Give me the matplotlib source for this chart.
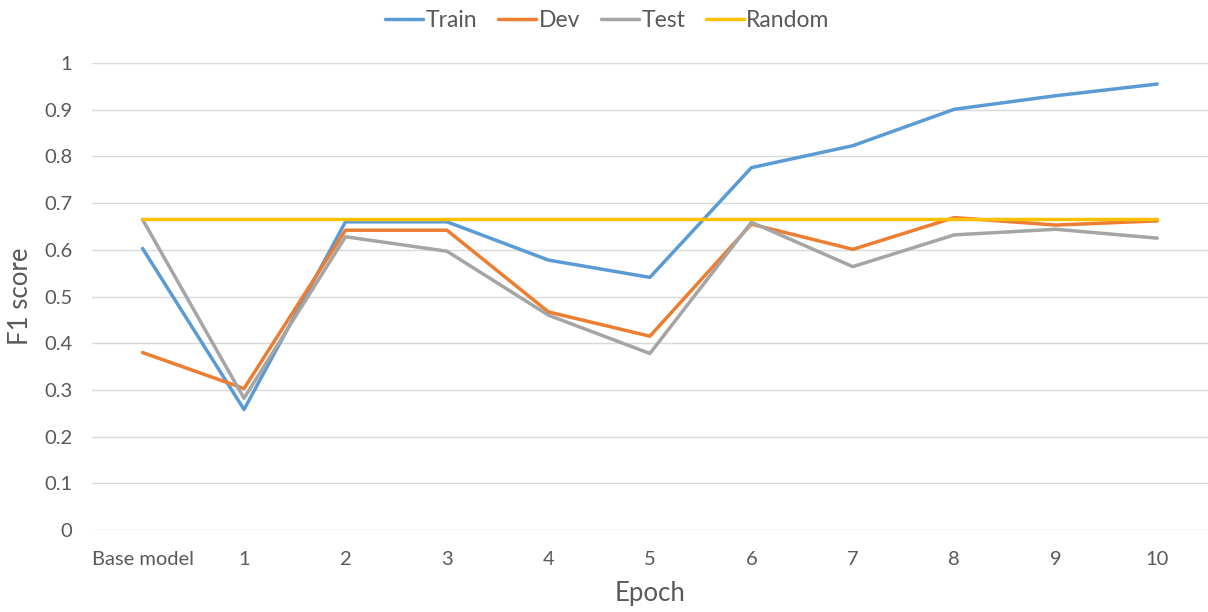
import matplotlib.pyplot as plt

# --------------------------------------------------
# Data
# --------------------------------------------------
epochs = ["Base model", "1", "2", "3", "4", "5", "6", "7", "8", "9", "10"]
train = [0.603, 0.258, 0.660, 0.660, 0.578, 0.541, 0.776, 0.823, 0.901, 0.930, 0.955]
dev = [0.380, 0.303, 0.642, 0.642, 0.467, 0.415, 0.655, 0.601, 0.669, 0.653, 0.662]
test = [0.665, 0.282, 0.628, 0.597, 0.460, 0.378, 0.659, 0.564, 0.632, 0.644, 0.625]
random_f1 = [0.666] * len(epochs)

y_ticks = [0, 0.1, 0.2, 0.3, 0.4, 0.5, 0.6, 0.7, 0.8, 0.9, 1]
y_tick_labels = ["0", "0.1", "0.2", "0.3", "0.4", "0.5", "0.6", "0.7", "0.8", "0.9", "1"]

# --------------------------------------------------
# Plot
# --------------------------------------------------
plt.rcParams["font.family"] = ["Lato", "DejaVu Sans"]
text_color = "#595959"

fig = plt.figure(figsize=(12.08, 6.12), dpi=100)
ax = fig.add_axes([0.076, 0.134, 0.924, 0.763])

x = list(range(len(epochs)))
ax.plot(x, train, color="#5B9BD5", lw=2.5, label="Train", solid_capstyle="round")
ax.plot(x, dev, color="#ED7D31", lw=2.5, label="Dev", solid_capstyle="round")
ax.plot(x, test, color="#A5A5A5", lw=2.5, label="Test", solid_capstyle="round")
ax.plot(x, random_f1, color="#FFC000", lw=2.5, label="Random", solid_capstyle="round")

ax.set_xlim(-0.5, len(epochs) - 0.5)
ax.set_ylim(0, 1)
ax.set_xticks(x)
ax.set_xticklabels(epochs)
ax.set_yticks(y_ticks)
ax.set_yticklabels(y_tick_labels)

ax.grid(axis="y", color="#D9D9D9", lw=1)
ax.set_axisbelow(True)
for s in ax.spines.values():
    s.set_visible(False)
ax.tick_params(axis="both", length=0, colors=text_color, labelsize=14.5)
ax.tick_params(axis="y", pad=14)
ax.tick_params(axis="x", pad=15)

ax.set_xlabel("Epoch", fontsize=18.5, color=text_color)
ax.set_ylabel("F1 score", fontsize=18.5, color=text_color)
ax.xaxis.set_label_coords(0.5, -0.11)
ax.yaxis.set_label_coords(-0.053, 0.5)

leg = fig.legend(loc="center", bbox_to_anchor=(607.5 / 1208, 0.967), ncol=4, frameon=False,
                 fontsize=16.5, handlelength=1.65, handletextpad=0.12, columnspacing=0.9)
for t in leg.get_texts():
    t.set_color(text_color)

fig.savefig("out.png", dpi=100)
